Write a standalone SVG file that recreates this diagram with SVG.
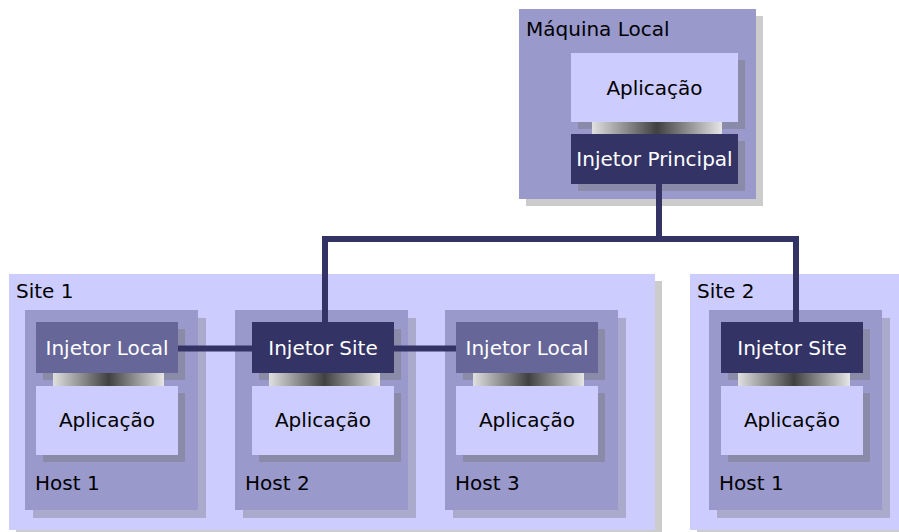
<svg xmlns="http://www.w3.org/2000/svg" width="899" height="532" viewBox="0 0 899 532">
<defs>
<linearGradient id="bar" x1="0" y1="0" x2="1" y2="0">
<stop offset="0" stop-color="#e0e0e0"/>
<stop offset="0.5" stop-color="#404040"/>
<stop offset="1" stop-color="#e6e6e6"/>
</linearGradient>
</defs>
<style>
text{font-family:"DejaVu Sans","Liberation Sans",sans-serif;font-size:20px;}
.lbl{fill:#000;}
.c{text-anchor:middle;}
.w{fill:#fff;}
.outer{fill:#9999cc;}
.site{fill:#ccccff;}
.sh0{fill:#cccccc;}
.sh1{fill:#aaaacc;}
.sh2{fill:#8a8aa9;}
.app{fill:#ccccff;}
.inj{fill:#333366;}
.loc{fill:#666699;}
.bar{fill:url(#bar);}
.conn{fill:none;stroke:#333366;stroke-width:6;stroke-linejoin:miter;}
</style>
<rect width="899" height="532" fill="#fff"/>

<g id="maquina-local">
<rect class="sh0" x="526" y="16" width="237" height="190"/>
<rect class="outer" x="519" y="9" width="237" height="190"/>
<text class="lbl" x="526" y="36">Máquina Local</text>
<rect class="sh2" x="578" y="60" width="167" height="69"/>
<rect class="sh2" x="578" y="141" width="167" height="50"/>
<rect class="app" x="571" y="53" width="167" height="69"/>
<text class="lbl c" x="654.5" y="95">Aplicação</text>
<rect class="bar" x="592" y="122" width="130" height="12"/>
<g id="injetor-principal">
<rect class="inj" x="571" y="134" width="167" height="50"/>
<text class="w c" x="654.5" y="166">Injetor Principal</text>
</g>
</g>

<g id="site1">
<rect class="sh0" x="16" y="281" width="646" height="256"/>
<rect class="site" x="9" y="274" width="646" height="256"/>
<text class="lbl" x="16" y="298">Site 1</text>
</g>

<g id="site2">
<rect class="sh0" x="697" y="281" width="209" height="256"/>
<rect class="site" x="690" y="274" width="209" height="256"/>
<text class="lbl" x="697" y="298">Site 2</text>
</g>

<g id="site1-host1">
<rect class="sh1" x="33" y="318" width="173" height="200"/>
<rect class="outer" x="25" y="310" width="173" height="200"/>
<text class="lbl" x="35" y="490">Host 1</text>
<rect class="sh2" x="43" y="329" width="142" height="51"/>
<rect class="sh2" x="43" y="393" width="142" height="69"/>
<rect class="bar" x="53" y="373" width="111" height="13"/>
<rect class="loc" x="36" y="322" width="142" height="51"/>
<text class="w c" x="107" y="355">Injetor Local</text>
<rect class="app" x="36" y="386" width="142" height="69"/>
<text class="lbl c" x="107" y="427">Aplicação</text>
</g>

<g id="site1-host2">
<rect class="sh1" x="243" y="318" width="173" height="200"/>
<rect class="outer" x="235" y="310" width="173" height="200"/>
<text class="lbl" x="245" y="490">Host 2</text>
<rect class="sh2" x="259" y="329" width="142" height="51"/>
<rect class="sh2" x="259" y="393" width="142" height="69"/>
<rect class="bar" x="269" y="373" width="111" height="13"/>
<rect class="inj" x="252" y="322" width="142" height="51"/>
<text class="w c" x="323" y="355">Injetor Site</text>
<rect class="app" x="252" y="386" width="142" height="69"/>
<text class="lbl c" x="323" y="427">Aplicação</text>
</g>

<g id="site1-host3">
<rect class="sh1" x="453" y="318" width="173" height="200"/>
<rect class="outer" x="445" y="310" width="173" height="200"/>
<text class="lbl" x="455" y="490">Host 3</text>
<rect class="sh2" x="463" y="329" width="142" height="51"/>
<rect class="sh2" x="463" y="393" width="142" height="69"/>
<rect class="bar" x="473" y="373" width="111" height="13"/>
<rect class="loc" x="456" y="322" width="142" height="51"/>
<text class="w c" x="527" y="355">Injetor Local</text>
<rect class="app" x="456" y="386" width="142" height="69"/>
<text class="lbl c" x="527" y="427">Aplicação</text>
</g>

<g id="site2-host1">
<rect class="sh1" x="717" y="318" width="173" height="200"/>
<rect class="outer" x="709" y="310" width="173" height="200"/>
<text class="lbl" x="719" y="490">Host 1</text>
<rect class="sh2" x="728" y="329" width="142" height="51"/>
<rect class="sh2" x="728" y="393" width="142" height="69"/>
<rect class="bar" x="738" y="373" width="112" height="13"/>
<rect class="inj" x="721" y="322" width="142" height="51"/>
<text class="w c" x="792" y="355">Injetor Site</text>
<rect class="app" x="721" y="386" width="142" height="69"/>
<text class="lbl c" x="792" y="427">Aplicação</text>
</g>

<g id="connectors">
<path class="conn" d="M659,184 V239"/>
<path class="conn" d="M325,322 V239 H796 V322"/>
<path class="conn" d="M178,348.5 H252"/>
<path class="conn" d="M394,348.5 H456"/>
</g>
</svg>
